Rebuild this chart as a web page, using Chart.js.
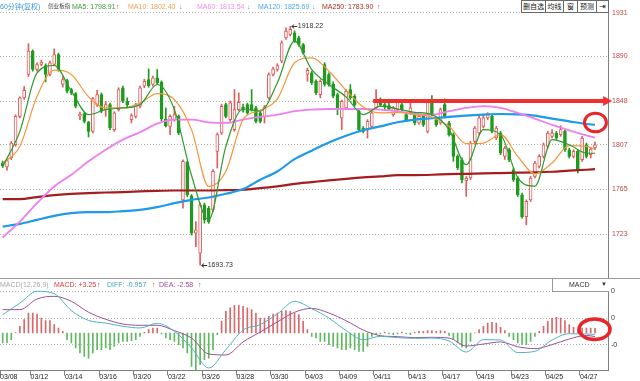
<!DOCTYPE html>
<html><head><meta charset="utf-8">
<script src="https://cdn.jsdelivr.net/npm/chart.js@4.4.1/dist/chart.umd.min.js"></script>
<style>
html,body{margin:0;padding:0;background:#fff;}
#wrap{position:relative;width:640px;height:381px;overflow:hidden;font-family:"Liberation Sans","Noto Sans CJK SC",sans-serif;}
canvas{position:absolute;left:0;}
.t{position:absolute;font-size:7px;line-height:9px;white-space:nowrap;}
.btn{position:absolute;top:0;height:13px;box-sizing:border-box;border:1px solid #6a6a6a;background:#fff;font-size:7px;line-height:11px;text-align:center;color:#222;white-space:nowrap;}
</style></head><body>
<div id="wrap">
<canvas id="main" width="640" height="278" style="top:0"></canvas>
<div style="position:absolute;left:0;top:278px;width:640px;height:1px;background:#9a9a9a"></div>
<canvas id="macd" width="640" height="102" style="top:279px"></canvas>
<div id="hdr"></div>
<div class="btn" style="left:521px;width:25px">删自选</div>
<div class="btn" style="left:545px;width:19px">均线</div>
<div class="btn" style="left:563px;width:15px">窗</div>
<div class="btn" style="left:577px;width:20px">预测</div>
<div class="btn" style="left:596px;width:13px;font-size:8px">⇥</div>
<div style="position:absolute;left:552px;top:279px;width:56px;height:12px;border-left:1px solid #999;border-bottom:1px solid #999;background:#fff;">
  <span class="t" style="left:16px;top:1px;color:#333">MACD</span>
  <span class="t" style="left:48px;top:1px;color:#333;font-size:6px">▼</span>
</div>
</div>
<script>
// ---------- data ----------
const openP = [
1790.0,1786.0,1794.4,1807.0,1833.6,1850.9,1872.9,1894.9,1877.6,1882.3,
1881.4,1872.9,1882.3,1891.7,1863.5,1867.2,1858.8,1855.0,1834.0,1835.9,
1828.0,1819.5,1844.6,1854.0,1839.9,1844.6,1821.1,1839.9,1860.3,1847.8,
1830.5,1833.6,1843.1,1861.9,1868.2,1863.5,1869.8,1865.7,1831.1,1824.2,
1830.5,1833.6,1755.1,1790.3,1758.9,1723.7,1704.9,1750.4,1747.3,1745.7,
1800.7,1817.9,1844.6,1830.5,1821.1,1839.9,1842.4,1844.6,1844.6,1841.5,
1836.8,1833.6,1850.9,1872.9,1877.6,1885.5,1907.4,1910.6,1912.1,1907.4,
1901.1,1872.9,1874.5,1866.6,1854.0,1882.3,1872.9,1864.0,1854.0,1832.1,
1841.5,1858.8,1852.5,1838.4,1822.6,1821.1,1824.2,1841.5,1849.3,1844.6,
1843.7,1835.2,1839.9,1844.6,1835.2,1836.8,1835.2,1827.4,1833.6,1819.5,
1848.4,1830.5,1827.4,1844.6,1827.4,1816.4,1796.0,1792.8,1773.0,1775.6,
1810.1,1817.9,1824.2,1832.1,1833.6,1813.2,1817.9,1796.0,1802.2,1783.4,
1775.6,1759.9,1739.4,1755.1,1777.1,1786.5,1796.0,1805.4,1814.8,1817.9,
1816.4,1819.5,1802.2,1796.0,1800.7,1792.8,1806.9,1797.5,1803.8];
const highP = [
1791.5,1793.5,1810.0,1835.0,1852.0,1861.5,1902.0,1896.0,1884.0,1886.5,
1883.0,1885.5,1897.0,1893.0,1871.0,1868.5,1860.0,1856.0,1837.5,1837.0,
1829.0,1851.5,1858.1,1855.5,1847.8,1846.0,1838.0,1860.5,1862.0,1851.0,
1836.0,1846.0,1862.0,1868.5,1878.2,1871.5,1877.6,1867.0,1841.5,1835.0,
1843.0,1835.0,1792.8,1791.5,1760.0,1734.7,1752.0,1752.0,1749.0,1783.5,
1818.0,1845.0,1846.0,1848.0,1858.8,1855.6,1845.0,1846.0,1858.8,1843.0,
1838.0,1844.0,1874.5,1880.0,1883.0,1904.5,1916.8,1918.22,1914.0,1909.0,
1902.0,1879.0,1876.0,1868.0,1868.0,1884.0,1874.5,1866.0,1855.5,1849.0,
1859.0,1863.5,1854.0,1840.0,1824.0,1830.5,1838.5,1858.8,1851.0,1846.0,
1846.5,1843.0,1849.3,1846.0,1837.0,1849.3,1837.0,1835.0,1835.0,1848.5,
1853.1,1832.0,1841.5,1850.0,1829.0,1818.0,1797.5,1794.5,1777.0,1810.0,
1824.0,1833.6,1835.2,1837.0,1835.2,1824.2,1819.5,1805.4,1803.8,1785.0,
1777.0,1761.5,1755.1,1777.1,1791.3,1797.5,1808.5,1819.5,1821.1,1819.5,
1824.8,1821.1,1803.8,1802.2,1802.2,1814.8,1808.5,1804.5,1809.3];
const lowP = [
1785.5,1783.0,1793.0,1805.5,1832.0,1849.5,1871.0,1876.0,1876.0,1881.0,
1866.0,1871.5,1881.0,1876.0,1861.0,1855.5,1854.0,1841.5,1830.5,1827.5,
1814.2,1818.0,1843.0,1837.0,1833.6,1821.0,1819.5,1838.5,1846.5,1841.5,
1827.4,1832.0,1841.5,1860.5,1861.0,1862.0,1863.5,1829.5,1823.5,1816.4,
1829.0,1816.4,1747.3,1758.0,1722.0,1711.2,1693.73,1733.2,1733.0,1744.0,
1785.0,1816.5,1832.0,1829.0,1819.5,1838.5,1837.5,1835.5,1838.5,1827.5,
1827.5,1827.4,1849.5,1871.5,1876.0,1884.0,1906.0,1909.0,1903.0,1899.5,
1892.0,1866.6,1863.5,1854.0,1850.9,1862.0,1862.0,1851.0,1835.2,1821.1,
1840.0,1849.5,1843.0,1819.5,1818.0,1813.2,1822.5,1840.0,1843.0,1839.0,
1839.0,1833.6,1838.5,1838.5,1829.0,1835.5,1825.5,1826.0,1824.0,1818.0,
1834.0,1824.2,1826.0,1832.0,1815.0,1791.3,1783.5,1770.9,1758.3,1774.0,
1808.5,1816.4,1822.5,1830.5,1818.0,1811.7,1797.5,1793.0,1791.0,1772.4,
1758.3,1737.8,1731.6,1753.6,1775.6,1785.0,1794.4,1803.8,1813.2,1811.7,
1814.8,1800.7,1794.4,1794.4,1780.3,1791.3,1794.4,1794.4,1802.2];
const closeP = [
1787.0,1792.0,1808.5,1833.6,1850.9,1858.1,1894.9,1877.6,1882.3,1884.5,
1872.9,1883.9,1891.7,1877.6,1868.2,1857.2,1855.6,1843.1,1835.5,1828.9,
1819.5,1850.3,1854.0,1838.4,1844.6,1822.6,1836.8,1858.8,1847.8,1844.6,
1834.2,1844.6,1860.3,1866.6,1862.5,1869.8,1865.1,1831.1,1824.8,1833.6,
1835.2,1817.9,1791.3,1759.9,1723.7,1726.9,1750.4,1736.3,1734.7,1781.8,
1816.4,1843.1,1833.6,1846.2,1839.9,1846.8,1839.3,1836.8,1839.9,1828.9,
1828.9,1842.4,1872.9,1878.2,1881.4,1902.7,1913.7,1915.3,1904.3,1901.1,
1893.3,1876.9,1865.1,1855.6,1866.6,1863.5,1863.5,1852.5,1839.9,1847.8,
1857.2,1850.9,1844.6,1821.1,1819.5,1828.9,1836.8,1849.3,1844.6,1842.5,
1840.5,1841.5,1847.8,1839.9,1830.5,1841.5,1827.4,1833.6,1825.8,1846.8,
1835.2,1825.8,1839.9,1833.6,1816.4,1796.0,1785.0,1774.0,1775.6,1808.5,
1822.6,1832.1,1832.1,1835.2,1819.5,1822.6,1799.1,1803.8,1792.8,1774.0,
1759.9,1739.4,1753.6,1775.6,1789.7,1796.0,1806.9,1817.9,1817.9,1813.2,
1821.1,1802.2,1796.0,1800.7,1783.4,1813.2,1796.0,1802.8,1806.9];

// bar indices at which the moving averages / MACD lines were read
const sampleIdx = [0,4,8,12,16,20,24,28,32,36,40,44,48,52,56,60,64,68,72,76,80,84,88,92,96,100,104,108,112,116,120,124,128,132,136,138];
const ma5 = [1786.5,1819.5,1874.5,1881.4,1857.2,1835.2,1839.9,1841.5,1844.6,1863.5,1839.9,1778.0,1736.3,1805.4,1840.5,1838.4,1865.1,1904.3,1877.6,1863.5,1851.9,1835.2,1843.1,1840.5,1837.4,1835.2,1821.1,1788.1,1821.1,1816.4,1776.0,1768.0,1811.7,1806.9,1799.1,1798.91];
const ma10 = [1789.1,1805.4,1852.5,1877.0,1872.9,1851.9,1841.5,1841.5,1846.2,1855.0,1849.3,1821.1,1767.7,1782.0,1830.5,1839.3,1850.0,1883.9,1888.6,1876.0,1858.1,1842.4,1836.8,1837.4,1835.2,1833.0,1824.2,1807.9,1808.5,1816.4,1796.0,1779.6,1789.7,1806.0,1805.4,1802.40];
const ma60 = [1719.7,1734.7,1752.0,1767.7,1778.7,1791.3,1802.2,1811.7,1818.6,1826.7,1830.5,1830.5,1828.0,1827.4,1830.5,1833.0,1835.2,1838.4,1839.9,1840.5,1840.5,1840.5,1839.9,1838.4,1835.8,1835.2,1838.4,1841.5,1843.1,1841.5,1836.8,1831.4,1825.5,1820.5,1815.7,1813.54];
const ma120 = [1730.0,1732.5,1736.3,1740.1,1742.6,1743.5,1743.5,1744.5,1745.7,1748.2,1752.0,1755.1,1757.3,1760.8,1765.2,1774.0,1781.8,1793.4,1801.3,1809.1,1815.4,1820.5,1824.2,1828.0,1830.5,1831.8,1833.0,1834.3,1835.2,1835.8,1835.5,1834.3,1831.4,1828.9,1826.4,1825.69];
const ma250 = [1755.8,1755.8,1757.7,1759.5,1760.8,1761.4,1762.0,1762.4,1763.0,1763.6,1763.9,1763.9,1763.9,1764.3,1764.6,1766.1,1767.7,1770.2,1771.8,1773.4,1774.9,1776.2,1777.1,1778.4,1778.4,1778.7,1779.3,1779.6,1780.0,1780.3,1780.6,1780.9,1781.5,1782.5,1783.4,1783.90];

const macdHist = [
-7.1,-7.1,-4.8,0.3,4.8,9.5,14.3,14.3,13.6,10.7,
8.8,8.8,6.0,3.6,1.2,-4.8,-7.1,-10.7,-14.3,-16.7,
-17.9,-14.3,-11.9,-11.9,-10.7,-11.9,-9.5,-7.1,-6.0,-6.0,
-5.5,-4.8,-2.4,0.5,2.4,3.6,3.6,-0.7,-3.6,-4.8,
-6.0,-8.3,-10.7,-14.3,-23.8,-27.4,-22.6,-19.0,-17.9,-11.9,
-1.2,8.3,15.5,17.9,19.8,19.8,19.0,17.9,16.7,14.3,
10.7,10.7,11.9,13.6,14.3,15.5,16.0,15.5,14.3,13.1,
8.3,2.4,-2.4,-3.6,-6.0,-6.0,-8.3,-9.5,-10.7,-11.9,
-11.9,-10.7,-11.9,-13.1,-13.1,-9.5,-2.4,-1.2,-0.7,0.7,
-0.7,-1.2,-0.7,0.7,-0.7,-1.2,0.5,1.2,1.2,1.7,
1.7,1.2,1.7,1.2,-1.7,-4.8,-7.1,-10.2,-10.7,-6.0,
0.2,2.4,4.8,7.1,7.6,7.1,4.0,1.7,-2.4,-4.8,
-7.1,-8.3,-8.3,-6.0,-2.4,1.2,4.8,8.3,10.7,11.2,
10.7,8.8,6.0,4.0,2.4,3.6,3.6,3.6,3.25];
const diffLine = [13.1,21.4,29.8,28.1,16.0,9.0,7.1,4.8,3.6,6.9,1.2,-10.7,-25.0,-11.9,2.1,6.0,13.6,22.6,17.4,10.7,1.7,-4.8,-2.4,-3.3,-3.8,-3.6,-5.7,-13.6,-4.8,-5.0,-14.0,-13.1,-5.0,-0.5,-0.7,-0.957];
const deaLine = [16.7,16.7,24.3,26.2,22.6,14.8,9.8,6.4,5.5,5.5,1.7,-3.6,-15.0,-15.7,-6.4,0.7,7.9,14.8,17.6,14.3,8.8,2.1,-1.9,-2.6,-3.3,-3.1,-3.6,-9.3,-7.9,-6.4,-9.8,-11.2,-8.3,-4.3,-1.7,-2.58];

const dateLabels = ['03/08','03/12','03/14','03/16','03/20','03/22','03/26','03/28','03/30','04/03','04/09','04/11','04/13','04/17','04/19','04/23','04/25','04/27'];
const priceTicks = [1931,1890,1848,1807,1765,1723];
const macdTickVals = [29.8,10.7,-8.4];
const macdTickText = ['0','0','-0'];

// ---------- setup ----------
Chart.defaults.font.family = '"Liberation Sans","Noto Sans CJK SC",sans-serif';
Chart.defaults.font.size = 7;
const X_MIN = -0.63, X_MAX = 141.03;
const UP = '#e05c5c', DOWN = '#1f9b1f';
const isUp = i => closeP[i] >= openP[i];
const line = arr => sampleIdx.map((b, k) => ({x: b, y: arr[k]}));
const last = a => a[a.length - 1];

// header texts
const hdr = document.getElementById('hdr');
function addT(txt, left, top, color, size) {
  const s = document.createElement('span');
  s.className = 't'; s.textContent = txt;
  s.style.left = left + 'px'; s.style.top = top + 'px'; s.style.color = color;
  if (size) s.style.fontSize = size + 'px';
  hdr.appendChild(s);
}
addT('60分钟(复权)', 0, 2, '#3d9ed8');
addT('创业板指', 48, 2, '#444', 5.6);
addT('MA5: ' + last(ma5).toFixed(2), 72, 2, '#3a9a3a'); addT('↑', 116, 2, '#e02828');
addT('MA10: ' + last(ma10).toFixed(2), 128, 2, '#f0a050'); addT('↓', 179, 2, '#3a9ee0');
addT('MA60: ' + last(ma60).toFixed(2), 197, 2, '#f08cf0'); addT('↓', 247, 2, '#3a9ee0');
addT('MA120: ' + last(ma120).toFixed(2), 258, 2, '#49aaf0'); addT('↓', 312, 2, '#3a9ee0');
addT('MA250: ' + last(ma250).toFixed(2), 322, 2, '#b02a2a'); addT('↑', 377, 2, '#e02828');
addT('MACD(12,26,9)', 0, 280, '#aaaaaa');
addT('MACD: +' + last(macdHist).toFixed(2), 54, 280, '#d04040'); addT('↑', 97, 280, '#e02828');
addT('DIFF: ' + last(diffLine).toFixed(3), 107, 280, '#3fa6b8'); addT('↑', 152, 280, '#e02828');
addT('DEA: ' + last(deaLine).toFixed(2), 159, 280, '#9b4a9b'); addT('↑', 198, 280, '#e02828');

// ---------- annotation plugins ----------
const mainAnno = {
  id: 'mainAnno',
  afterDraw(chart) {
    const {ctx, scales: {x, y}} = chart;
    ctx.save();
    let hi = 0, lo = 0;
    highP.forEach((v, i) => { if (v > highP[hi]) hi = i; });
    lowP.forEach((v, i) => { if (v < lowP[lo]) lo = i; });
    [[hi, highP[hi]], [lo, lowP[lo]]].forEach(([i, v]) => {
      const px = x.getPixelForValue(i), py = Math.round(y.getPixelForValue(v)) + 0.5;
      ctx.strokeStyle = '#333'; ctx.lineWidth = 1;
      ctx.beginPath();
      ctx.moveTo(px + 1.5, py); ctx.lineTo(px + 7, py);
      ctx.moveTo(px + 1.5, py); ctx.lineTo(px + 4, py - 2);
      ctx.moveTo(px + 1.5, py); ctx.lineTo(px + 4, py + 2);
      ctx.stroke();
      ctx.fillStyle = '#333'; ctx.font = '7px "Liberation Sans", sans-serif';
      ctx.textBaseline = 'middle'; ctx.textAlign = 'left';
      ctx.fillText(v.toFixed(2), px + 7.5, py);
    });
    const ay = y.getPixelForValue(1848);
    const ax1 = x.getPixelForValue(86.3), ax2 = x.getPixelForValue(142);
    ctx.strokeStyle = '#f03030'; ctx.fillStyle = '#f03030'; ctx.lineWidth = 4;
    ctx.beginPath(); ctx.moveTo(ax1, ay); ctx.lineTo(ax2 - 7, ay); ctx.stroke();
    ctx.beginPath(); ctx.moveTo(ax2 - 9, ay - 5); ctx.lineTo(ax2, ay); ctx.lineTo(ax2 - 9, ay + 5); ctx.closePath(); ctx.fill();
    ctx.strokeStyle = '#e8262a'; ctx.lineWidth = 3;
    ctx.beginPath();
    ctx.ellipse(x.getPixelForValue(138.1), y.getPixelForValue(1827.8), 11, 9.3, 0, 0, Math.PI * 2);
    ctx.stroke();
    ctx.restore();
  }
};
const macdAnno = {
  id: 'macdAnno',
  afterDraw(chart) {
    const {ctx, scales: {x, y}} = chart;
    ctx.save();
    ctx.strokeStyle = '#e8262a'; ctx.lineWidth = 3.5;
    ctx.beginPath();
    ctx.ellipse(x.getPixelForValue(137.9), y.getPixelForValue(2.64), 15.5, 10.3, 0, 0, Math.PI * 2);
    ctx.stroke();
    ctx.restore();
  }
};

const common = {
  responsive: false, animation: false, devicePixelRatio: 1,
  layout: {padding: 0},
  plugins: {legend: {display: false}, tooltip: {enabled: false}}
};
const lineDs = (arr, color, w, order) => ({
  type: 'line', data: line(arr), borderColor: color, borderWidth: w,
  pointRadius: 0, cubicInterpolationMode: 'monotone', fill: false, order
});

// ---------- main (candles + MAs) ----------
new Chart(document.getElementById('main'), {
  data: {datasets: [
    {type: 'bar', data: closeP.map((c, i) => ({x: i, y: [lowP[i], highP[i]]})),
     grouped: false, barThickness: 1, maxBarThickness: 1,
     backgroundColor: c => isUp(c.dataIndex) ? UP : DOWN, borderWidth: 0, order: 7},
    {type: 'bar', data: closeP.map((c, i) => ({x: i, y: [openP[i], c]})),
     grouped: false, barThickness: 3, maxBarThickness: 3, minBarLength: 1,
     backgroundColor: c => isUp(c.dataIndex) ? '#ffffff' : DOWN,
     borderColor: c => isUp(c.dataIndex) ? UP : DOWN,
     borderWidth: 1, borderSkipped: false, order: 6},
    lineDs(ma250, '#a51d1d', 2.2, 5),
    lineDs(ma120, '#1d9ae8', 2.2, 4),
    lineDs(ma60, '#ee7fee', 1.8, 3),
    lineDs(ma10, '#f5963a', 1.2, 2),
    lineDs(ma5, '#2d9a2d', 1.2, 1)
  ]},
  options: Object.assign({}, common, {
    scales: {
      x: {type: 'linear', min: X_MIN, max: X_MAX, bounds: 'data', offset: false, display: false,
          grid: {offset: false}},
      y: {type: 'linear', position: 'right', min: 1681.65, max: 1942.94, bounds: 'data',
          afterBuildTicks(s) { s.ticks = priceTicks.map(v => ({value: v})); },
          afterFit(s) { s.width = 32; s.paddingTop = 0; s.paddingBottom = 0; },
          ticks: {callback: v => String(v), color: '#c24747', font: {size: 7}, padding: 4},
          grid: {color: '#b4b4b4', drawTicks: false, lineWidth: 1},
          border: {display: true, color: '#808080', dash: [1, 2]}}
    }
  }),
  plugins: [mainAnno]
});

// ---------- MACD ----------
new Chart(document.getElementById('macd'), {
  data: {datasets: [
    lineDs(diffLine, '#4db3c2', 1, 1),
    lineDs(deaLine, '#9d4f9d', 1, 2),
    {type: 'bar', data: macdHist.map((v, i) => ({x: i, y: v})),
     grouped: false, barThickness: 1, maxBarThickness: 1,
     backgroundColor: c => macdHist[c.dataIndex] >= 0 ? '#d9686b' : '#5fb85f', borderWidth: 0, order: 3}
  ]},
  options: Object.assign({}, common, {
    scales: {
      x: {type: 'linear', min: X_MIN, max: X_MAX, bounds: 'data', offset: false,
          afterBuildTicks(s) { s.ticks = dateLabels.map((_, k) => ({value: k === 0 ? X_MIN : 8 * k - 1.5})); },
          afterFit(s) { s.height = 10.5; s.paddingLeft = 0; s.paddingRight = 0; },
          ticks: {autoSkip: false, maxRotation: 0, minRotation: 0, align: 'start', padding: -3,
                  color: '#222', font: {size: 7}, callback: (v, i) => dateLabels[i]},
          grid: {offset: false, drawOnChartArea: false, drawTicks: true, tickLength: 5, color: '#808080'},
          border: {display: true, color: '#808080'}},
      y: {type: 'linear', position: 'right', min: -26.79, max: 38.57, bounds: 'data',
          afterBuildTicks(s) { s.ticks = macdTickVals.map(v => ({value: v})); },
          afterFit(s) { s.width = 32; s.paddingTop = 0; s.paddingBottom = 0; },
          ticks: {callback: (v, i) => macdTickText[i], color: '#333', font: {size: 7}, padding: 3},
          grid: {color: '#b4b4b4', drawTicks: false},
          border: {display: true, color: '#808080', dash: [1, 2]}}
    }
  }),
  plugins: [macdAnno]
});
</script>
</body></html>
